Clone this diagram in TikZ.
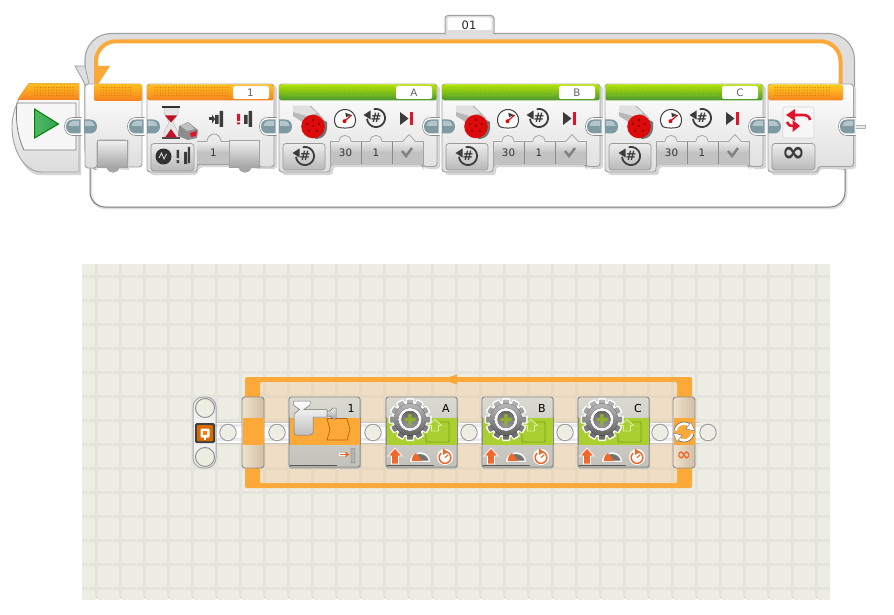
\documentclass[tikz,border=0pt]{standalone}
\usepackage{fontspec}
\setmainfont{DejaVu Sans}
\usetikzlibrary{arrows.meta}
\definecolor{gridline}{HTML}{E4E4DC}
\definecolor{gridcell}{HTML}{EDEDE4}
\definecolor{loopor}{HTML}{FDA93A}
\definecolor{tabcol}{HTML}{7E9AA2}
\definecolor{tabhi}{HTML}{B4C6CA}
\definecolor{edge}{HTML}{A2A2A2}
\definecolor{dk}{HTML}{3C3C3C}
\definecolor{redc}{HTML}{E2132A}
\definecolor{motred}{HTML}{DE0A0A}
\definecolor{nxtgreen}{HTML}{A9D02F}
\definecolor{orico}{HTML}{F0672B}
\tikzset{
 lbl/.style={inner sep=0pt,font=\fontsize{10.3}{12}\selectfont,text=black!80},
 blockbody/.style={draw=edge,line width=.9,top color=white,bottom color=black!13,rounded corners=3},
 shadowb/.style={fill=black!16,rounded corners=3},
 valband/.style={top color=black!7,bottom color=black!30,middle color=black!24},
 btn/.style={draw=black!40,line width=.7,top color=black!7,bottom color=black!28,rounded corners=3},
 nxtbody/.style={draw=black!45,line width=.9,top color=black!8!gridcell,bottom color=black!18!gridcell,rounded corners=2.5},
 icoline/.style={draw=dk,line width=1.6},
}
\newcommand\arcp[5]{plot[domain=#4:#5,samples=28] ({#1+#3*cos(\x)},{#2+#3*sin(\x)})}
\newcommand\dotrow[4]{% x0 x1 dots colour
 \foreach \ry in {87.5,90.2,92.9,95.6}{\foreach \dx in {#1,#3,...,#2}{\fill[#4] (\dx,\ry) circle (.5);}}}
\newcommand\outtab[1]{%
 \draw[draw=black!45,fill=white,line width=.6] (#1+.5,117.5) -- (#1-8,117.5) .. controls (#1-13,117.5) and (#1-16.5,121) .. (#1-16.5,126.5) .. controls (#1-16.5,132) and (#1-13,135.5) .. (#1-8,135.5) -- (#1+.5,135.5);
 \fill[tabcol] (#1-.5,119.5) -- (#1-8,119.5) .. controls (#1-12,119.5) and (#1-15,122) .. (#1-15,126.5) .. controls (#1-15,131) and (#1-12,133.5) .. (#1-8,133.5) -- (#1-.5,133.5) -- cycle;
 \fill[tabhi] (#1-2,121) -- (#1-8,121) .. controls (#1-10.5,121) and (#1-12,123) .. (#1-12.5,126) -- (#1-2,126) -- cycle;}
\newcommand\intab[1]{%
 \fill[tabcol] (#1,119.5) -- (#1+6,119.5) .. controls (#1+10,119.5) and (#1+13,122) .. (#1+13,126.5) .. controls (#1+13,131) and (#1+10,133.5) .. (#1+6,133.5) -- (#1,133.5) -- cycle;
 \fill[tabhi] (#1+1,121) -- (#1+6,121) .. controls (#1+8.5,121) and (#1+10,123) .. (#1+10.5,126) -- (#1+1,126) -- cycle;}
\newcommand\bumpf[2]{\fill[#2] (#1-6,142.5) .. controls (#1-5,135) and (#1+5,135) .. (#1+6,142.5) -- cycle;}
\newcommand\hashicon[4]{% name cx cy radius
 \draw[icoline,line width=1.8] \arcp{#2}{#3}{#4}{-105}{175};
 \fill[dk] (#2-#4-3.5,#3-3) -- (#2-#4+3.5,#3-#4+1.5) -- (#2-#4+3.5,#3+1.5) -- cycle;
 \node[inner sep=0pt,text=dk,font=\bfseries\fontsize{13}{13}\selectfont] (#1) at (#2,#3) {\#};}
\newcommand\motorblock[2]{% x label
 \begin{scope}[shift={(#1,0)}]
 \fill[shadowb] (3,86) -- (161,86) -- (161,169) -- (147,169) -- (147,167) -- (54,167) -- (54,175) -- (3,175) -- cycle;
 \draw[blockbody] (0,84) -- (158,84) -- (158,166.5) -- (144,166.5) -- (144,164.5) -- (51,164.5) -- (51,172) -- (0,172) -- cycle;
 \shade[top color={rgb,255:red,182;green,226;blue,0},bottom color={rgb,255:red,72;green,150;blue,48},rounded corners=2] (.5,84.5) rectangle (157.5,100.5);
 \dotrow{5}{113}{7.7}{black!30!green!70!yellow!80}
 \fill[white,rounded corners=2] (117,86) rectangle (153,99);
 \node[lbl,text=black!60] (lab#2) at (135,92.7) {#2};
 % value strip
 \shade[valband] (51,141) -- (144,141) -- (144,164.5) -- (51,164.5) -- cycle;
 \fill[black!24] (51,152) rectangle (144,164.5);
 \draw[edge,line width=.9] (51,164.5) -- (51,141) -- (144,141) -- (144,164.5);
 \bumpf{66}{black!8}\bumpf{97}{black!8}
 \fill[black!8] (124,142) -- (130,134.5) -- (136,142) -- cycle;
 \draw[edge,line width=.7] (60,141) .. controls (61,133.5) and (71,133.5) .. (72,141);
 \draw[edge,line width=.7] (91,141) .. controls (92,133.5) and (102,133.5) .. (103,141);
 \draw[edge,line width=.7] (124,141) -- (130,134.5) -- (136,141);
 \draw[black!45,line width=.6] (82,142) -- (82,164) (113,142) -- (113,164);
 \node[lbl] (sp#2) at (66.5,153) {30};
 \node[lbl] (ro#2) at (97,153) {1};
 \draw[black!50,line width=2.4] (123,151) -- (127,156) -- (133,148);
 % mode button
 \draw[btn] (4,143.5) rectangle (46,170);
 \hashicon{hm#2}{26}{156}{9}
 % motor
 \fill[black!28] (14,106) -- (32,106) -- (44,118) -- (46,130) -- (30,126) -- (14,116) -- cycle;
 \fill[black!12] (14,106) -- (30,106) -- (38,113) -- (28,116) -- (14,112) -- cycle;
 \fill[black!55] (36,139) .. controls (46,139) and (49,132) .. (48,122) -- (36,116) -- cycle;
 \fill[white!60!black!40] (36,136) .. controls (42,135) and (45,130) .. (45,122) -- (36,116) -- cycle;
 \fill[motred] (34,126.5) circle (11.8);
 \foreach \a/\b in {34/120,28/124,40/124,30/131,38/131,34/126}{\fill[black!55!red] (\a,\b) circle (1.2);}
 % speed
 \fill[white] (66,120) circle (10.5);
 \draw[icoline,line width=1] \arcp{66}{120}{10.5}{140}{400};
 \draw[dk,line width=1] (58,126.8) .. controls (62,128.5) and (70,128.5) .. (74,126.8);
 \fill[dk] (66.3,112.7) -- (72,115) -- (67,117.3) -- cycle;
 \draw[motred,line width=1.2] (66,120.7) -- (72.7,115);
 \fill[motred] (65.5,121.2) circle (2);
 \hashicon{hr#2}{97}{118}{9}
 % brake
 \fill[dk] (121,112) -- (129.5,118.5) -- (121,125) -- cycle;
 \fill[redc] (131,112) rectangle (134,125);
 \end{scope}}
\newcommand\gearic[2]{%
 \fill[white] (#1,#2) circle (18);
 \foreach \t in {0,30,...,330}{
  \fill[white,rotate around={\t:(#1,#2)},rounded corners=1] (#1-4,#2-21.5) rectangle (#1+4,#2-12);}
 \foreach \t in {0,30,...,330}{
  \pgfmathtruncatemacro\gp{44-14*cos(\t)}
  \fill[black!\gp,rotate around={\t:(#1,#2)},rounded corners=.6] (#1-3,#2-20) rectangle (#1+3,#2-12);}
 \fill[top color=black!28,bottom color=black!62] (#1,#2) circle (16);
 \fill[top color=white,bottom color=black!6] (#1,#2) circle (11.5);
 \fill[top color=black!60,bottom color=black!40] (#1,#2) circle (8.5);
 \fill[nxtgreen!85!black] (#1-1.7,#2-5.5) rectangle (#1+1.7,#2+5.5) (#1-5.5,#2-1.7) rectangle (#1+5.5,#2+1.7);}
\newcommand\nxtblock[2]{% x inner
 \begin{scope}[shift={(#1,0)}]
 \fill[black!30,rounded corners=2.5] (-.5,398) rectangle (72,468.5);
 \draw[nxtbody] (0,397) rectangle (71,467);
 #2
 \draw[black!45,line width=.9] (0,417) -- (0,445) (71,417) -- (71,445);
 \draw[black!65,line width=1.3] (1,465.8) -- (48,465.8);
 \end{scope}}
\newcommand\motorinner[1]{%
 \fill[nxtgreen] (0,417.5) rectangle (71,445);
 \draw[black!25!nxtgreen,line width=.9,rounded corners=1] (40,430) -- (40,442) -- (63,442) -- (63,422) -- (54,422);
 \fill[nxtgreen,draw=white!60!nxtgreen,line width=.8] (49,419.5) -- (55.5,425.5) -- (52.5,425.5) -- (52.5,431) -- (45.5,431) -- (45.5,425.5) -- (42.5,425.5) -- cycle;
 \gearic{24}{419.5}
 \draw[white,line width=.8,fill=orico] (9,448) -- (16,456) -- (12.5,456) -- (12.5,464) -- (5.5,464) -- (5.5,456) -- (2,456) -- cycle;
 \fill[white] (24,462) .. controls (24,449) and (44,449) .. (44,462) -- cycle;
 \fill[black!55] (26,460.5) .. controls (27,452) and (41,452) .. (42.5,460.5) -- cycle;
 \fill[orico] (26,461) .. controls (26,456) and (28,454) .. (30,453) -- (36,461) -- cycle;
 \fill[white] (59,457) circle (8);
 \draw[orico,line width=1.5] \arcp{59}{457.5}{5.8}{-70}{230};
 \fill[orico] (57,448.5) -- (62,452) -- (57,455) -- cycle;
 \draw[orico,line width=1.2] (59,457.5) -- (62,455);
 \node[inner sep=0pt,font=\fontsize{11}{12}\selectfont,text=black] (n#1) at (60,408) {#1};}
\begin{document}
\begin{tikzpicture}[x=1pt,y=-1pt]
\useasboundingbox (0,0) rectangle (894,615);
\fill[white] (0,0) rectangle (894,615);
%% ---- lower canvas
\begin{scope}
\clip (82,264) rectangle (830,599);
\fill[gridline] (82,264) rectangle (830,599);
\foreach \i in {-1,...,31}{\foreach \j in {-1,...,13}{
 \fill[gridcell,rounded corners=2.5] ({97.8+24*\i},{277.8+24*\j}) rectangle ++(21.2,21.2);}}
\end{scope}
% loop
\fill[loopor,rounded corners=2] (245,377) rectangle (692,488);
\begin{scope}
\clip[rounded corners=2] (260,382) rectangle (677,483);
\fill[orange!12!gridline] (260,382) rectangle (677,483);
\foreach \i in {6,...,24}{\foreach \j in {3,...,8}{
 \fill[orange!14!gridcell,rounded corners=2] ({97.8+24*\i},{277.8+24*\j}) rectangle ++(21.2,21.2);}}
\end{scope}
\fill[orange!14!gridcell] (458,382) rectangle (472,386);
\fill[loopor] (441,379.5) -- (457,374.5) -- (457,384.5) -- cycle;
\fill[loopor] (456,377) rectangle (472,382);
% beam
\fill[white] (216,422) rectangle (700,443);
\draw[black!22,line width=.8] (216,422) -- (700,422) (216,443) -- (700,443);
\fill[black!8] (216,424) rectangle (700,441);
\fill[white] (216,427) rectangle (700,438);
\fill[loopor] (245,418) rectangle (261,445);
% start capsule
\draw[draw=black!35,line width=1,fill=black!6,rounded corners=10] (193,397) rectangle (216,468);
\draw[black!45,fill=gridcell,line width=.9] (205,408) circle (9.5);
\draw[black!45,fill=gridcell,line width=.9] (205,457) circle (9.5);
\fill[black!75,rounded corners=1.5] (195,423) rectangle (215,443);
\fill[orange!85!black,rounded corners=1] (197,425) rectangle (213,441);
\fill[white,rounded corners=1] (200.5,428.5) rectangle (209.5,437.5);
\fill[orange] (203,431) rectangle (207,435);
\fill[white] (204,437) rectangle (206,439.5);
% circles on beam
\foreach \cx in {228,277,373,469,565,660,708}{
 \draw[black!38,fill=white,line width=1] (\cx,432.5) circle (8.2);
 \fill[gridcell] (\cx,432.5) circle (7);}
% loop posts
\draw[draw=black!45,line width=.9,left color=gridcell!90!orange,right color=black!15!gridcell!85!orange,rounded corners=3] (242,397) rectangle (264,468);
\fill[loopor] (242.5,418) rectangle (263.5,445);
\draw[draw=black!45,line width=.9,left color=gridcell!90!orange,right color=black!15!gridcell!85!orange,rounded corners=3] (673,397) rectangle (695,468);
\fill[loopor] (673.5,418) rectangle (694.5,445);
\draw[white,line width=2.6] \arcp{684}{432}{8.5}{190}{320};
\draw[white,line width=2.6] \arcp{684}{432}{8.5}{10}{140};
\draw[black!55,line width=.7] \arcp{684}{432}{10}{190}{320};
\draw[black!55,line width=.7] \arcp{684}{432}{10}{10}{140};
\fill[white,draw=black!50,line width=.5] (691,422) -- (695,431) -- (686,429) -- cycle;
\fill[white,draw=black!50,line width=.5] (677,442) -- (673,433) -- (682,435) -- cycle;
\node[inner sep=0pt,font=\bfseries\fontsize{17}{17}\selectfont,text=orico] (loopinf) at (684,456) {∞};
% wait block
\nxtblock{289}{%
 \fill[loopor] (0,417.5) rectangle (71,445);
 \draw[orange!75!black,line width=.7] (38,418.5) -- (58,418.5) -- (61,429.5) -- (58,440) -- (38,440) -- (41,429.5) -- cycle;
 \draw[draw=black!55,line width=.5,top color=white,bottom color=black!25] (4.5,401) -- (21,401) -- (21,405) -- (15,409.5) -- (38,409.5) -- (38,417) -- (24,417) -- (24,433) -- (21,435) -- (6,435) -- (5,433) -- (5,414) -- (10.5,409.5) -- (4.5,405) -- cycle;
 \draw[draw=black!55,line width=.5,top color=black!8,bottom color=black!35] (38,411) -- (41,411) -- (44,408) -- (47,408) -- (47,419) -- (44,419) -- (41,416) -- (38,416) -- cycle;
 \node[inner sep=0pt,font=\fontsize{11}{12}\selectfont,text=black] (n1) at (62,408) {1};
 \draw[white,line width=2.6] (50,454.5) -- (59,454.5);
 \draw[orico,line width=1.5,-{Latex[length=4pt,width=6.5pt]}] (51,454.5) -- (60.5,454.5);
 \fill[black!30,draw=black!55,line width=.4,rounded corners=.5] (62,448.5) rectangle (66,463);
}
\nxtblock{386}{\motorinner{A}}
\nxtblock{482}{\motorinner{B}}
\nxtblock{578}{\motorinner{C}}
%% ---- upper program: loop frame
\draw[draw=edge,line width=1,fill=black!13,rounded corners=3] (445,34) -- (445,15.5) -- (494,15.5) -- (494,34);
\fill[white,rounded corners=2.5] (447.5,17.5) rectangle (491.5,31.5);
\node[lbl,text=black!85,font=\fontsize{11.5}{13}\selectfont] (tag) at (469,25.5) {01};
\draw[draw=edge,line width=1.1,fill=black!13,rounded corners=26] (85,175) -- (85,33.5) -- (854.5,33.5) -- (854.5,175) -- cycle;
\fill[black!13] (446,30) rectangle (493,36);
\fill[white,rounded corners=16] (96,42) rectangle (840,178);
\fill[white] (84,170) rectangle (856,206);
\draw[black!12,line width=2.6,rounded corners=15] (91,168) -- (91,208) -- (846,208) -- (846,166);
\draw[black!50,line width=1,rounded corners=15] (90,168) -- (90,207) -- (845,207) -- (845,166);
\draw[loopor,line width=4,rounded corners=20] (96,100) -- (96,41.3) -- (840.5,41.3) -- (840.5,100);
\fill[black!13,draw=edge,line width=.8] (85,66) -- (75,66) -- (85.5,85) -- (89,84) -- cycle;
\fill[loopor] (94,66) -- (110,66) -- (97,86) -- (94,86) -- cycle;
%% start block
\fill[black!16] (81,175) -- (40,175) .. controls (24,175) and (14,150) .. (14,127) -- (81,127) -- cycle;
\draw[draw=edge,line width=.9,top color=white,bottom color=black!14] (79,172) -- (42,172) .. controls (24,172) and (12,150) .. (12,127) .. controls (12,110) and (20,95) .. (29,83.5) -- (79,83.5) -- cycle;
\shade[top color={rgb,255:red,255;green,190;blue,30},bottom color={rgb,255:red,247;green,130;blue,32}] (29,83.5) -- (79,83.5) -- (79,100) -- (17.5,100) .. controls (20,95) and (24,90) .. (29,83.5);
\dotrow{35}{75}{37.7}{orange!80!black}
\draw[draw=black!50,line width=.8,fill=black!3] (17,103) -- (76,103) -- (76,150) -- (24,150) .. controls (18,138) and (15,120) .. (17,103);
\shade[left color={rgb,255:red,80;green,185;blue,100},right color={rgb,255:red,50;green,160;blue,80}] (34.5,109) -- (58.5,124) -- (34.5,138) -- cycle;
\draw[black!50!green,line width=1] (34.5,109) -- (58.5,124) -- (34.5,138) -- cycle;
\outtab{81}
%% loop start block
\draw[blockbody] (85,84) -- (142,84) -- (142,167) -- (127,167) -- (127,140) -- (97,140) -- (97,168) -- (85,168) -- cycle;
\shade[top color={rgb,255:red,255;green,190;blue,30},bottom color={rgb,255:red,247;green,130;blue,32},rounded corners=2] (94,84) rectangle (142,101);
\dotrow{101}{132}{103.7}{orange!80!black}
\fill[black!16] (99,168) -- (99,140) -- (129,140) -- (129,170) -- cycle;
\fill[top color=black!6,bottom color=black!35] (97,140.5) rectangle (127,167);
\draw[edge,line width=.9] (97,140.5) rectangle (127,167);
\fill[black!35] (107,167) .. controls (108,174) and (118,174) .. (119,167) -- cycle;
\draw[edge,line width=.8] (107,167) .. controls (108,174) and (118,174) .. (119,167);
\intab{84}
\outtab{144}
%% wait block
\fill[shadowb] (150,86) -- (277,86) -- (277,169) -- (262,169) -- (232,167) -- (200,167) -- (197,175) -- (150,175) -- cycle;
\draw[blockbody] (147,84) -- (274,84) -- (274,167) -- (259,167) -- (259,164.5) -- (197,164.5) -- (197,172) -- (147,172) -- cycle;
\shade[top color={rgb,255:red,255;green,190;blue,30},bottom color={rgb,255:red,247;green,130;blue,32},rounded corners=2] (147.5,84.5) rectangle (273.5,100.5);
\dotrow{155}{229}{157.7}{orange!80!black}
\fill[white,rounded corners=2] (233,86) rectangle (269,99);
\node[lbl,text=black!60] (wt) at (250.5,92.7) {1};
\shade[valband] (197,141.5) rectangle (229,164.5);
\fill[black!24] (197,152) rectangle (229,164.5);
\draw[edge,line width=.9] (197,141.5) -- (229,141.5);
\draw[edge,line width=.9] (197,164.5) -- (229,164.5);
\fill[black!8] (207,142.5) .. controls (208,131) and (220,131) .. (221,142.5) -- cycle;
\draw[edge,line width=.8] (207,141.5) .. controls (208,131.5) and (220,131.5) .. (221,141.5);
\node[lbl] (wv) at (213.5,153) {1};
\fill[top color=black!6,bottom color=black!35] (229,140.5) rectangle (259,167);
\draw[edge,line width=.9] (229,140.5) rectangle (259,167);
\fill[black!35] (239,167) .. controls (240,174) and (250,174) .. (251,167) -- cycle;
\draw[edge,line width=.8] (239,167) .. controls (240,174) and (250,174) .. (251,167);
\draw[btn] (151,143.5) rectangle (194,171);
\fill[dk!80!black] (163.5,156.5) circle (8);
\draw[black!10,line width=.8] (159,158) -- (161.5,153) -- (164,159) -- (166.5,154);
\fill[dk] (176.5,150) rectangle (179,158) (176.5,160) rectangle (179,163);
\fill[dk] (184,152) rectangle (187,164) (187.8,147) rectangle (190,163);
% hourglass
\fill[black!10,draw=black!25,line width=.5] (164,108) -- (178,108) -- (178,113) -- (173,122.5) -- (178,132) -- (178,138) -- (164,138) -- (164,132) -- (169,122.5) -- (164,113) -- cycle;
\fill[black!80] (162,106) rectangle (180,108.5);
\fill[black!70] (162,137.5) rectangle (180,139.5);
\fill[redc!85!black] (165,115.5) -- (177,115.5) -- (171,122.5) -- cycle;
\fill[redc!85!black] (171,129) -- (177,137.5) -- (165,137.5) -- cycle;
% sensor brick
\fill[black!45] (179,126) -- (188,122) -- (198,130) -- (197,138) -- (188,140) -- (178,136) -- cycle;
\fill[black!25] (180,125.5) -- (188,122.5) -- (195,129) -- (187,131) -- cycle;
\fill[redc] (190,133) -- (197,131) -- (196,136) -- (191,137) -- cycle;
% indicators
\fill[dk] (209,117.5) rectangle (212,120.5);
\fill[dk] (212,114.5) -- (215,119) -- (212,123.5) -- cycle;
\fill[dk] (215,115) rectangle (218.5,124) (219.5,111) rectangle (223,127);
\fill[redc] (237,114) rectangle (240,121) (237,122.5) rectangle (240,124.5);
\fill[dk] (244,115) rectangle (247.5,124) (248.5,111) rectangle (252,127);
\intab{147}
\outtab{276}
%% motors
\motorblock{279}{A}
\intab{279}
\outtab{439}
\motorblock{442}{B}
\intab{442}
\outtab{602}
\motorblock{605}{C}
\intab{605}
\outtab{765}
%% end block
\fill[shadowb] (771,86) -- (856,86) -- (856,169) -- (820,169) -- (818,175) -- (771,175) -- cycle;
\draw[blockbody] (768,84) -- (853.5,84) -- (853.5,166.5) -- (818,166.5) -- (818,172) -- (768,172) -- cycle;
\shade[top color={rgb,255:red,255;green,205;blue,30},bottom color={rgb,255:red,247;green,130;blue,32},rounded corners=2] (768.5,84.5) rectangle (843,100.5);
\dotrow{775}{831}{777.7}{orange!80!black}
\draw[black!15,line width=.7,fill=black!3,rounded corners=1.5] (783,107) rectangle (814,138);
\draw[redc,line width=2.6] (810,120) .. controls (809.5,116.5) and (807,115) .. (803,115) -- (794,115);
\fill[redc] (786,115) -- (795,109) -- (795,121) -- cycle;
\draw[redc,line width=2.6] (787,122) .. controls (787.5,125) and (790,126) .. (794,126);
\fill[redc] (800,126) -- (792.5,120) -- (792.5,132) -- cycle;
\draw[btn] (772,143.5) rectangle (815,170);
\node[inner sep=0pt,text=dk,font=\bfseries\fontsize{28}{28}\selectfont] (inf) at (793.5,154.5) {∞};
\draw[black!30,fill=black!8,line width=.5] (855,125.5) -- (865,125.5) -- (865,128.5) -- (855,128.5);
\outtab{855}
\intab{768}
\end{tikzpicture}
\end{document}
